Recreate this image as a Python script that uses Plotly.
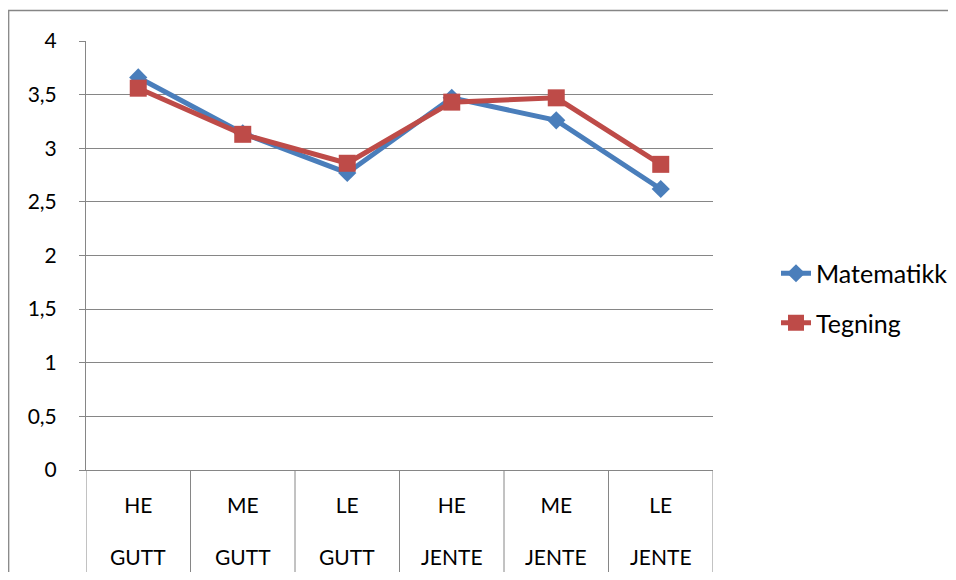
import plotly.graph_objects as go

categories = ["HE GUTT", "ME GUTT", "LE GUTT", "HE JENTE", "ME JENTE", "LE JENTE"]
level_labels = ["HE", "ME", "LE", "HE", "ME", "LE"]
group_labels = ["GUTT", "GUTT", "GUTT", "JENTE", "JENTE", "JENTE"]
matematikk = [3.66, 3.14, 2.77, 3.47, 3.26, 2.62]
tegning = [3.56, 3.13, 2.86, 3.43, 3.47, 2.85]
y_ticks = [0, 0.5, 1, 1.5, 2, 2.5, 3, 3.5, 4]

FONT = "Lato, 'Noto Sans', sans-serif"
GRID = "#868686"
OFF = 8  # page body margin
W, H = 956 - 2 * OFF, 580 - 2 * OFF
L, T = 86 - OFF, 41 - OFF
R = W - (713 - OFF)
B = H - (470 - OFF)
pw, ph = W - L - R, H - T - B

fig = go.Figure()
fig.add_trace(go.Scatter(
    x=categories, y=matematikk, name="Matematikk", mode="lines+markers",
    line=dict(color="#4A7EBB", width=5),
    marker=dict(symbol="diamond", size=14, color="#4A7EBB"),
    legendgroup="a"))
fig.add_trace(go.Scatter(
    x=categories, y=tegning, name="Tegning", mode="lines+markers",
    line=dict(color="#BE4B48", width=5),
    marker=dict(symbol="square", size=17, color="#BE4B48"),
    legendgroup="b"))

shapes = []
for i in range(len(categories) + 1):
    shapes.append(dict(type="line", xref="x", yref="paper",
                       x0=i - 0.5, x1=i - 0.5, y0=0, y1=-(575 - 470) / ph,
                       line=dict(color=GRID, width=1)))
# outer chart border (left and top edges; the rest runs off the page)
bx0 = (0.7 - L) / pw
by1 = 1 + (T - 2.5) / ph
shapes.append(dict(type="path", xref="paper", yref="paper",
                   path=f"M {bx0},-0.5 L {bx0},{by1} L 1.5,{by1}",
                   line=dict(color=GRID, width=1.3), layer="below"))

annotations = []
for c, g in zip(categories, group_labels):
    annotations.append(dict(x=c, xref="x", yref="paper", y=-86 / ph,
                            text=g, showarrow=False, yanchor="middle",
                            font=dict(family=FONT, size=21, color="#000")))

fig.update_layout(
    width=W, height=H,
    margin=dict(l=L, r=R, t=T, b=B, pad=0, autoexpand=False),
    paper_bgcolor="white", plot_bgcolor="white",
    separators=", ",
    font=dict(family=FONT, size=21, color="#000"),
    shapes=shapes, annotations=annotations,
    legend=dict(x=(776 - OFF - L) / pw, y=(470 - 298) / ph, xanchor="left", yanchor="middle",
                font=dict(family=FONT, size=25, color="#000"),
                tracegroupgap=14, bgcolor="rgba(0,0,0,0)"),
    showlegend=True,
)
fig.update_xaxes(
    type="category", tickvals=categories, ticktext=level_labels,
    range=[-0.5, 5.5], showgrid=False, showline=True, linecolor=GRID, linewidth=1,
    ticks="", ticklabelstandoff=17, tickfont=dict(family=FONT, size=21),
    zeroline=False,
)
fig.update_yaxes(
    range=[0, 4], tickvals=y_ticks, showgrid=True, gridcolor=GRID, gridwidth=1,
    showline=True, linecolor=GRID, linewidth=1, ticks="outside", ticklen=6,
    tickcolor=GRID, ticklabelstandoff=18, tickfont=dict(family=FONT, size=21),
    zeroline=False,
)

fig.write_html("out.html")
